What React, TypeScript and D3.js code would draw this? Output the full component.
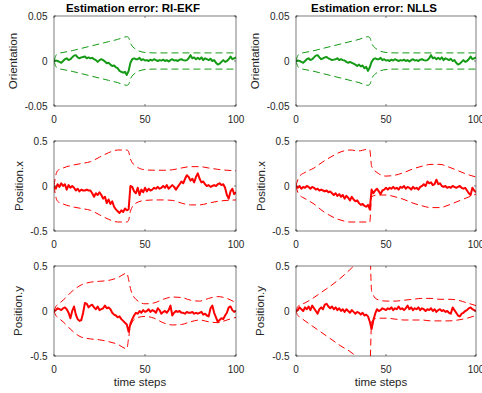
import { useEffect, useRef } from 'react'
import * as d3 from 'd3'

// time axis (one value per step)
const STEPS = d3.range(0, 101)

const BOUND_STEPS = [0, 1, 2, 5, 10, 15, 20, 25, 30, 35, 40, 41, 42, 45, 50, 55, 60, 65, 70, 75, 80, 85, 90, 95, 100]

const TITLES = ['Estimation error: RI-EKF', 'Estimation error: NLLS']
const Y_LABELS = ['Orientation', 'Position.x', 'Position.y']
const X_LABEL = 'time steps'
const X_TICKS = [0, 50, 100]
const ORIENT_TICKS = [-0.05, 0, 0.05]
const POS_TICKS = [-0.5, 0, 0.5]

// orientation error
const ekfOrient = [
  0, .0005, 0, -.001, -.002, 0, .002, .003, .001, .002, .004,
  .006, .0065, .004, .003, .004, .0045, .005, .003, .004, .003,
  .0035, .002, .001, -.001, .001, .002, .001, -.0005, -.0025, -.002,
  -.004, -.0055, -.005, -.007, -.008, -.011, -.012, -.013, -.012, -.0155,
  -.011, -.002, .002, .003, .002, .002, .0035, .001, .002, .0005,
  .001, 0, .0015, .0005, .002, .001, 0, .001, .0005, .0015,
  0, .001, -.0005, .001, .002, .0005, .001, 0, .0015, .002,
  .001, .0005, .001, .003, .0065, .003, .004, .002, .0035, .002,
  .004, .001, .003, .002, .001, .0025, 0, .001, -.002, -.004,
  -.003, -.001, .001, -.001, 0, .002, .005, .002, .003, .004
]
const nllsOrient = [
  0, .0005, 0, -.001, -.002, 0, .002, .003, .001, .002, .004,
  .006, .0065, .004, .002, .003, .004, .0045, .003, .002, .001,
  .0015, .002, .003, .001, .002, .001, .0005, -.001, -.002, -.001,
  -.002, -.003, -.004, -.0055, -.004, -.006, -.005, -.008, -.0065, -.011,
  -.007, -.001, .002, .003, .002, .002, .0035, .001, .002, .0005,
  .001, 0, .0015, .0005, .002, .001, 0, .001, .0005, .0015,
  0, .001, -.0005, .001, .002, .0005, .001, 0, .0015, .002,
  .001, .0005, .001, .003, .0065, .003, .004, .002, .0035, .002,
  .004, .001, .003, .002, .001, .0025, 0, .001, -.002, -.004,
  -.003, -.001, .001, -.001, 0, .002, .005, .002, .003, .004
]
const orientUpper = [0, .006, .008, .0095, .0115, .014, .0165, .019, .0215, .024, .027, .026, .02, .013, .0095, .009, .009, .009, .009, .009, .009, .009, .009, .009, .009]
const orientLower = [0, -.006, -.008, -.0095, -.0115, -.014, -.0165, -.019, -.0215, -.024, -.027, -.026, -.02, -.013, -.0095, -.009, -.009, -.009, -.009, -.009, -.009, -.009, -.009, -.009, -.009]

// position x error
const ekfPosX = [
  0, -.03, .02, -.01, .03, 0, .02, -.04, .01, -.02, 0,
  -.02, -.05, -.03, -.06, -.04, -.05, -.05, -.04, -.05, -.05,
  -.08, -.12, -.08, -.10, -.07, -.10, -.14, -.12, -.19, -.15,
  -.20, -.17, -.23, -.26, -.28, -.30, -.27, -.29, -.25, -.27,
  -.26, 0, -.01, -.06, -.08, -.02, -.10, -.04, -.07, -.02,
  -.06, -.03, -.05, -.04, -.02, -.03, -.01, -.03, -.02, 0,
  -.02, .01, -.03, -.01, .01, -.01, -.04, -.01, .02, .05,
  .03, .08, .12, .10, .06, .08, .04, .10, .14, .08,
  .04, .05, .02, 0, .01, -.01, 0, .01, 0, .02,
  .03, .01, .02, -.02, -.10, -.14, -.06, -.03, -.09, -.07
]
const nllsPosX = [
  0, -.02, 0, -.03, -.01, -.02, 0, -.01, -.03, -.01, -.02,
  -.04, -.03, -.05, -.04, -.05, -.06, -.05, -.07, -.06, -.08,
  -.10, -.08, -.11, -.09, -.12, -.10, -.14, -.11, -.13, -.16,
  -.12, -.15, -.17, -.16, -.19, -.21, -.20, -.22, -.23, -.21,
  -.26, -.04, -.08, -.05, -.03, -.06, -.09, -.05, -.04, -.02,
  -.04, -.02, -.03, -.01, -.03, -.02, -.04, -.01, -.02, 0,
  -.03, -.01, -.02, -.04, -.01, -.03, -.02, -.04, -.01, 0,
  .02, 0, .05, .03, .04, .01, .02, .07, .02, .03,
  0, -.01, 0, -.02, -.01, -.02, 0, -.01, -.02, -.01,
  0, -.02, -.03, -.02, -.05, -.08, -.10, -.02, -.05, -.07
]
const ekfPosXUpper = [0, .12, .17, .20, .23, .25, .27, .32, .37, .40, .40, .38, .30, .22, .18, .175, .175, .18, .20, .215, .215, .20, .185, .175, .17]
const ekfPosXLower = [0, -.12, -.17, -.20, -.23, -.25, -.27, -.32, -.37, -.40, -.40, -.38, -.28, -.19, -.16, -.155, -.155, -.16, -.19, -.21, -.21, -.19, -.17, -.16, -.155]
const nllsPosXUpper = [0, .07, .11, .15, .20, .27, .33, .38, .40, .39, .41, .40, .22, .15, .11, .12, .15, .19, .22, .24, .24, .21, .17, .13, .10]
const nllsPosXLower = [0, -.07, -.10, -.14, -.20, -.28, -.34, -.38, -.40, -.40, -.40, -.40, -.12, -.10, -.10, -.12, -.15, -.19, -.22, -.24, -.24, -.21, -.17, -.13, -.09]

// position y error
const ekfPosY = [
  0, .01, .03, .02, .01, .03, .04, .02, -.02, -.08, 0,
  .05, -.04, -.09, -.11, -.10, -.02, .09, .08, .04, .06,
  .07, .04, .02, .05, .01, .02, .03, .06, .03, .04,
  .02, -.02, -.04, -.05, -.07, -.06, -.09, -.11, -.13, -.15,
  -.23, -.14, -.09, -.05, -.02, -.03, 0, -.02, .01, -.01,
  0, .02, -.01, .01, 0, -.02, .03, .01, -.03, -.01,
  0, -.02, .01, .06, -.05, -.02, 0, -.01, 0, -.02,
  -.02, -.03, -.01, -.02, -.02, -.01, -.03, -.02, -.03, -.02,
  -.01, -.04, -.03, -.05, -.06, .03, .06, -.02, -.07, -.12,
  -.10, -.08, -.09, -.05, -.02, .04, .05, .01, -.01, 0
]
const nllsPosY = [
  0, .01, .04, .02, 0, .04, .02, .05, .01, .06, .03,
  0, -.03, .02, .04, .02, .07, .08, .05, .03, .05,
  .02, .04, .01, .03, 0, .02, -.01, .02, 0, -.02,
  .01, -.01, -.03, -.01, -.02, -.04, -.02, -.05, -.04, -.06,
  -.12, -.20, -.10, -.03, .02, 0, .01, .03, .02, .01,
  .03, .02, .04, .01, .03, .02, .05, .02, .03, .01,
  .03, .06, .02, .04, .01, .03, .02, .04, .01, .03,
  .02, 0, .02, .01, .03, 0, .02, -.01, .01, .02,
  0, .01, -.01, 0, -.02, -.03, .04, .01, -.02, -.05,
  -.06, -.03, -.02, 0, .01, .03, .04, .02, .01, 0
]
const ekfPosYUpper = [0, .05, .07, .12, .22, .29, .32, .33, .34, .37, .42, .35, .25, .13, .08, .09, .13, .155, .15, .12, .11, .14, .16, .14, .09]
const ekfPosYLower = [0, -.05, -.07, -.12, -.22, -.29, -.31, -.32, -.34, -.37, -.42, -.30, -.17, -.08, -.06, -.08, -.13, -.155, -.15, -.12, -.10, -.12, -.13, -.10, -.07]
const nllsPosYUpper = [0, .05, .065, .09, .15, .22, .29, .37, .46, .56, .66, .68, .22, .13, .11, .11, .12, .13, .14, .14, .13, .13, .12, .09, .06]
const nllsPosYLower = [0, -.05, -.065, -.11, -.18, -.25, -.32, -.39, -.45, -.53, -.62, -.66, -.12, -.08, -.08, -.09, -.10, -.10, -.10, -.11, -.11, -.11, -.10, -.08, -.05]

const GREEN = '#149a14'
const RED = '#ff0000'
const AXIS = '#262626'

const App = () => {
  const ref = useRef<SVGSVGElement>(null)

  useEffect(() => {
    const svg = d3.select(ref.current)
    svg.selectAll('*').remove()

    const width = 482, height = 393
    const colLeft = [54, 296]
    const colWidth = [182, 180]
    const rowTop = [16, 141, 266]
    const plotH = 90
    const font = '"Liberation Sans", Arial, Helvetica, sans-serif'

    const rows = [
      { label: Y_LABELS[0], ticks: ORIENT_TICKS, domain: [-0.05, 0.05], color: GREEN, labelGap: 37.5,
        series: [[ekfOrient, orientUpper, orientLower], [nllsOrient, orientUpper, orientLower]] },
      { label: Y_LABELS[1], ticks: POS_TICKS, domain: [-0.5, 0.5], color: RED, labelGap: 31,
        series: [[ekfPosX, ekfPosXUpper, ekfPosXLower], [nllsPosX, nllsPosXUpper, nllsPosXLower]] },
      { label: Y_LABELS[2], ticks: POS_TICKS, domain: [-0.5, 0.5], color: RED, labelGap: 32,
        series: [[ekfPosY, ekfPosYUpper, ekfPosYLower], [nllsPosY, nllsPosYUpper, nllsPosYLower]] }
    ]

    svg.append('rect').attr('width', width).attr('height', height).attr('fill', '#fff')

    rows.forEach((row, r) => {
      [0, 1].forEach(c => {
        const x0 = colLeft[c], w = colWidth[c], y0 = rowTop[r]
        const x = d3.scaleLinear().domain([0, 100]).range([x0, x0 + w])
        const y = d3.scaleLinear().domain(row.domain).range([y0 + plotH, y0])
        const g = svg.append('g')

        const clipId = `clip-${r}-${c}`
        svg.append('clipPath').attr('id', clipId)
          .append('rect').attr('x', x0).attr('y', y0).attr('width', w).attr('height', plotH)

        const [solid, upper, lower] = row.series[c]
        const boundLine = d3.line<number>()
          .x((_, i) => x(BOUND_STEPS[i]))
          .y(d => y(d))
          .curve(d3.curveMonotoneX)

        const plot = g.append('g').attr('clip-path', `url(#${clipId})`)
        ;[upper, lower].forEach(b => {
          plot.append('path')
            .attr('d', boundLine(b))
            .attr('fill', 'none')
            .attr('stroke', row.color)
            .attr('stroke-width', 1)
            .attr('stroke-dasharray', '7,4')
        })
        plot.append('path')
          .attr('d', d3.line<number>().x((_, i) => x(STEPS[i])).y(d => y(d))(solid))
          .attr('fill', 'none')
          .attr('stroke', row.color)
          .attr('stroke-width', 2)
          .attr('stroke-linejoin', 'round')

        // box with inward ticks on all four sides
        g.append('rect')
          .attr('x', x0).attr('y', y0).attr('width', w).attr('height', plotH)
          .attr('fill', 'none').attr('stroke', AXIS).attr('stroke-width', 0.6)
        const tl = 2
        X_TICKS.forEach(t => {
          g.append('line').attr('x1', x(t)).attr('x2', x(t)).attr('y1', y0 + plotH).attr('y2', y0 + plotH - tl)
            .attr('stroke', AXIS).attr('stroke-width', 0.6)
          g.append('line').attr('x1', x(t)).attr('x2', x(t)).attr('y1', y0).attr('y2', y0 + tl)
            .attr('stroke', AXIS).attr('stroke-width', 0.6)
          g.append('text')
            .attr('x', x(t)).attr('y', y0 + plotH + 16.5)
            .attr('text-anchor', 'middle')
            .style('font-family', font).style('font-size', '10px').attr('fill', AXIS)
            .text(t)
        })
        row.ticks.forEach(t => {
          g.append('line').attr('x1', x0).attr('x2', x0 + tl).attr('y1', y(t)).attr('y2', y(t))
            .attr('stroke', AXIS).attr('stroke-width', 0.6)
          g.append('line').attr('x1', x0 + w).attr('x2', x0 + w - tl).attr('y1', y(t)).attr('y2', y(t))
            .attr('stroke', AXIS).attr('stroke-width', 0.6)
          g.append('text')
            .attr('x', x0 - 6.5).attr('y', y(t))
            .attr('dy', '0.35em')
            .attr('text-anchor', 'end')
            .style('font-family', font).style('font-size', '10px').attr('fill', AXIS)
            .text(String(t))
        })

        g.append('text')
          .attr('transform', `translate(${x0 - row.labelGap},${y0 + plotH / 2}) rotate(-90)`)
          .attr('text-anchor', 'middle')
          .style('font-family', font).style('font-size', '11.5px').attr('fill', AXIS)
          .text(row.label)

        if (r === 0) {
          g.append('text')
            .attr('x', x0 + w / 2 - 12).attr('y', 11.5)
            .attr('text-anchor', 'middle')
            .style('font-family', font).style('font-size', '11.5px').style('font-weight', 'bold')
            .attr('fill', '#000')
            .text(TITLES[c])
        }
        if (r === 2) {
          g.append('text')
            .attr('x', x0 + w / 2 - 5).attr('y', y0 + plotH + 29.5)
            .attr('text-anchor', 'middle')
            .style('font-family', font).style('font-size', '11.5px').attr('fill', AXIS)
            .text(X_LABEL)
        }
      })
    })
  }, [])

  return (
    <svg ref={ref} width={482} height={393}
      style={{ position: 'absolute', left: 0, top: 0, display: 'block' }} />
  )
}

export default App
